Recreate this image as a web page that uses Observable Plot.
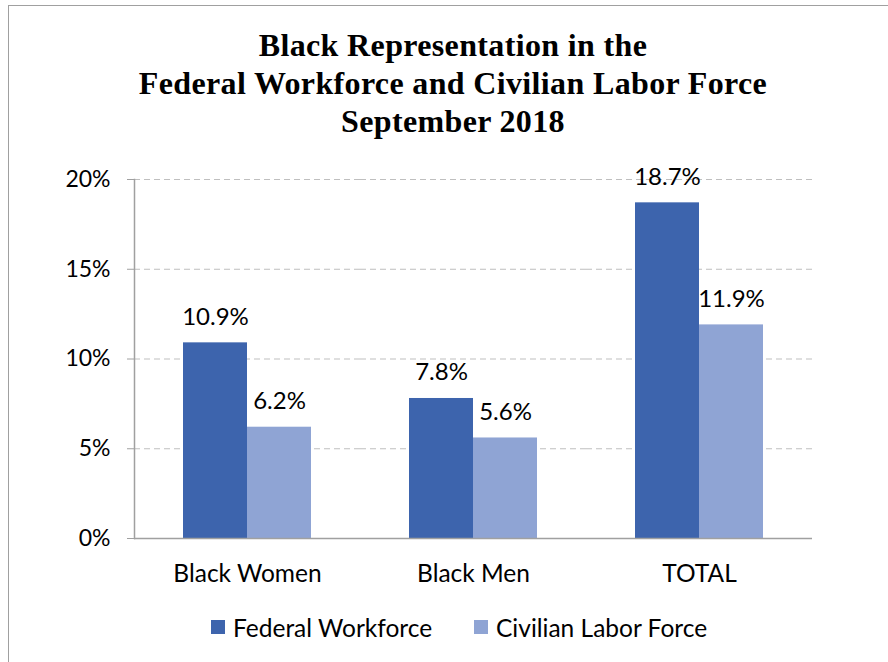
<!DOCTYPE html>
<html>
<head>
<meta charset="utf-8">
<script src="https://cdn.jsdelivr.net/npm/d3@7"></script>
<script src="https://cdn.jsdelivr.net/npm/@observablehq/plot@0.6"></script>
<style>
  html, body { margin: 0; padding: 0; background: #fff; }
  #wrap { position: relative; width: 888px; height: 662px; overflow: hidden; background: #fff; }
  #border { position: absolute; left: 8px; top: 5px; width: 900px; height: 700px; border: 1.5px solid #a0a0a0; box-sizing: border-box; }
  #title { position: absolute; left: 0; width: 906px; top: 26px; text-align: center;
    font-family: "Liberation Serif", serif; font-weight: bold; font-size: 32px; letter-spacing: 0.35px; line-height: 38px; color: #000; }
  #chart { position: absolute; left: 0; top: 0; }
  #legend { position: absolute; top: 613px; left: 0; width: 888px; font-family: Lato, sans-serif; font-size: 24.5px; color: #000; }
  .item { position: absolute; top: 0; display: flex; align-items: center; height: 28px; }
  .sw { width: 14px; height: 14px; margin-right: 8px; }
</style>
</head>
<body>
<div id="wrap">
  <div id="border"></div>
  <div id="title">Black Representation in the<br>Federal Workforce and Civilian Labor Force<br>September 2018</div>
  <div id="chart"></div>
  <div id="legend"></div>
</div>
<script>
const categories = ["Black Women", "Black Men", "TOTAL"];
const series = ["Federal Workforce", "Civilian Labor Force"];
const federal = [10.9, 7.8, 18.7];
const civilian = [6.2, 5.6, 11.9];
const yTicks = [0, 5, 10, 15, 20];
const colors = ["#3d64ad", "#8fa4d4"];

const data = [];
categories.forEach((c, i) => {
  data.push({category: c, series: series[0], value: federal[i]});
  data.push({category: c, series: series[1], value: civilian[i]});
});

const font = "Lato, sans-serif";

const plot = Plot.plot({
  width: 888,
  height: 662,
  marginTop: 179,
  marginBottom: 124,
  marginLeft: 133,
  marginRight: 76,
  style: {fontFamily: font, background: "transparent", color: "#000"},
  fx: {domain: categories, padding: 0, label: null},
  x: {domain: series, paddingInner: 0, paddingOuter: 0.754, axis: null},
  y: {domain: [0, 20], label: null},
  color: {domain: series, range: colors},
  marks: [
    Plot.gridY(yTicks.filter(d => d > 0), {stroke: "#bfbfbf", strokeOpacity: 1, strokeDasharray: "6,4", strokeWidth: 1}),
    Plot.barY(data, {fx: "category", x: "series", y: "value", fill: "series"}),
    Plot.text(data, {fx: "category", x: "series", y: "value", text: d => d.value.toFixed(1) + "%", dy: -26, fontSize: 24, fill: "#000"}),
    Plot.ruleY([0], {stroke: "#a0a0a0", strokeWidth: 1.5}),
    Plot.frame({anchor: "left", stroke: "#a0a0a0", strokeWidth: 1.5, facetAnchor: "left"}),
    Plot.axisY(yTicks, {tickFormat: d => d + "%", tickSize: 7, tickPadding: 17, stroke: "#a0a0a0", fill: "#000", fontSize: 23, label: null}),
    Plot.axisFx({anchor: "bottom", tickSize: 0, tickPadding: 26, fontSize: 24.5, fill: "#000", label: null})
  ]
});
document.getElementById("chart").appendChild(plot);

const legend = document.getElementById("legend");
const lefts = [211, 474];
series.forEach((s, i) => {
  const it = document.createElement("div");
  it.className = "item";
  it.style.left = lefts[i] + "px";
  const sw = document.createElement("div");
  sw.className = "sw";
  sw.style.background = colors[i];
  const t = document.createElement("span");
  t.textContent = s;
  it.appendChild(sw);
  it.appendChild(t);
  legend.appendChild(it);
});
</script>
</body>
</html>
